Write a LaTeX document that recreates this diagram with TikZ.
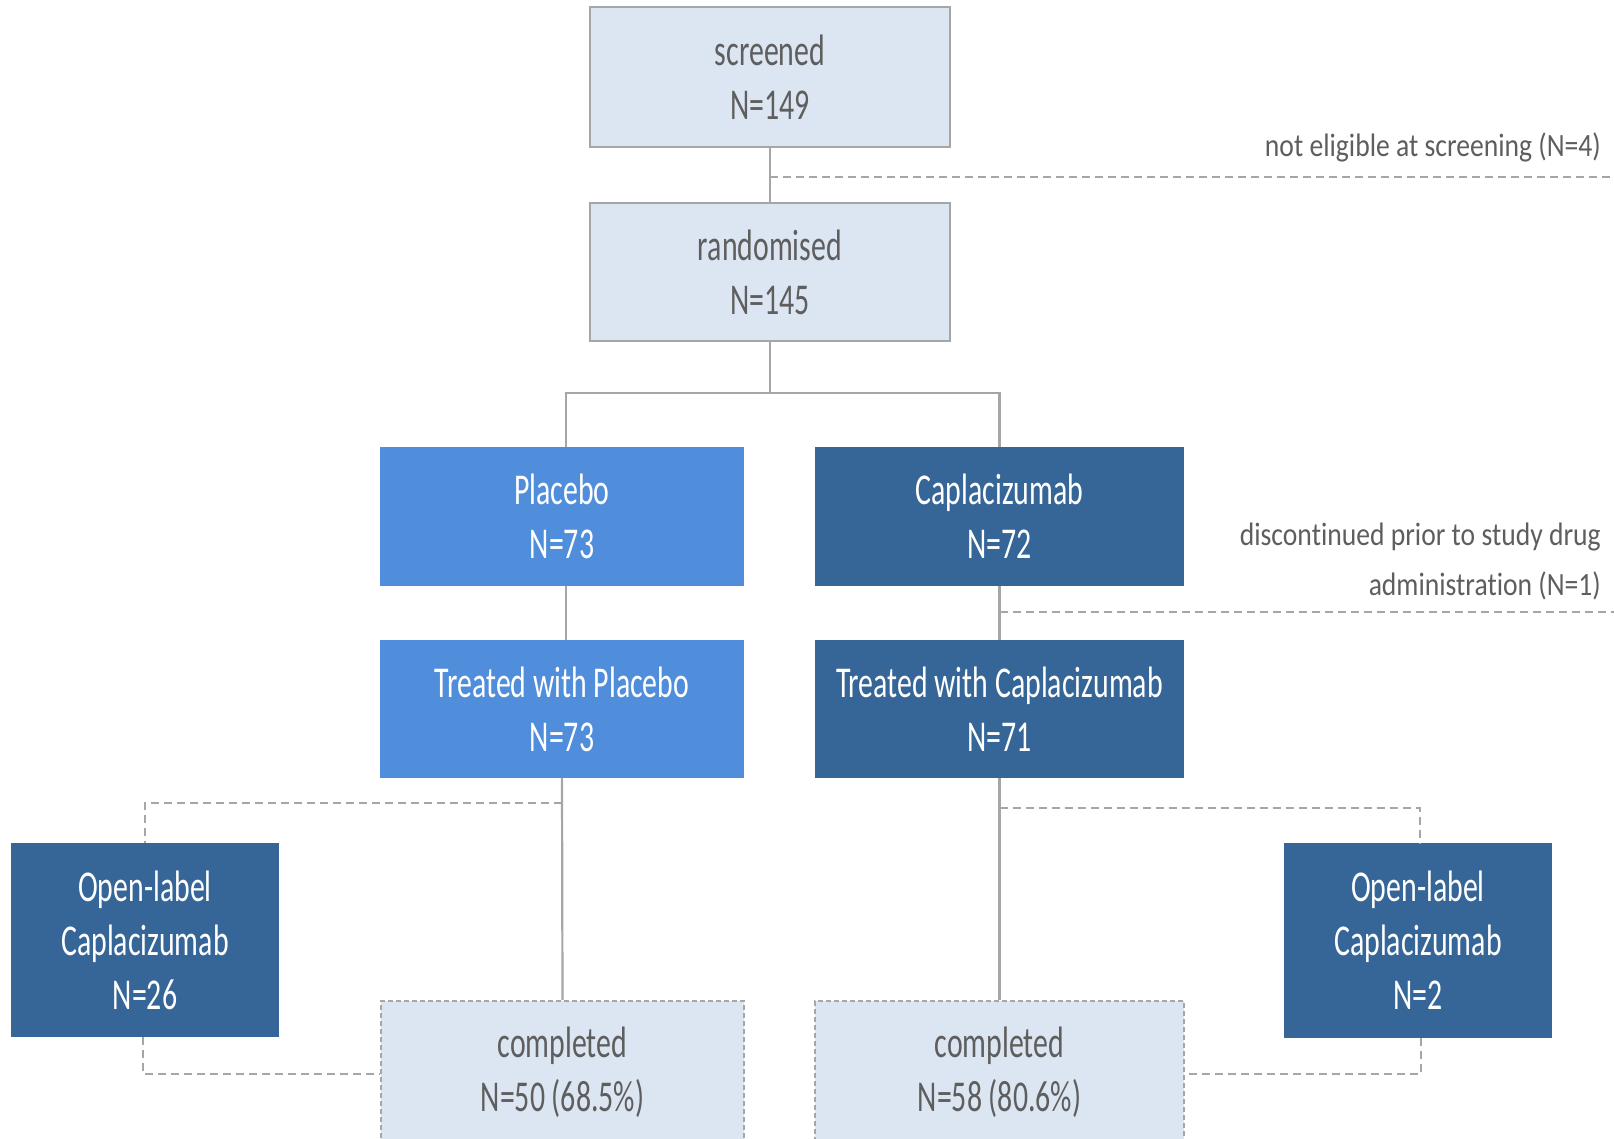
\documentclass[tikz,border=0pt]{standalone}
\usepackage{fontspec}
\setmainfont{Carlito}
\newfontfamily\boxfnt{Carlito}[FakeStretch=0.678, Ligatures=NoCommon]
\newfontfamily\notefnt{Carlito}[FakeStretch=0.85, Ligatures=NoCommon]
\definecolor{lightfill}{HTML}{DCE6F2}
\definecolor{edgegray}{HTML}{A6A6A6}
\definecolor{txtgray}{HTML}{5E5E5E}
\definecolor{plblue}{HTML}{508EDC}
\definecolor{capblue}{HTML}{366698}
\tikzset{
  basebox/.style={rectangle, inner sep=0pt, align=center,
    font=\boxfnt\fontsize{44}{54}\selectfont},
  lightbox/.style={basebox, fill=lightfill, draw=edgegray, line width=2.5pt, text=txtgray},
  compbox/.style={basebox, fill=lightfill, draw=edgegray, line width=2pt,
    dash pattern=on 5pt off 3pt, text=txtgray},
  plbox/.style={basebox, fill=plblue, text=white},
  capbox/.style={basebox, fill=capblue, text=white},
  conn/.style={draw=edgegray, line width=2.2pt},
  dconn/.style={draw=edgegray, line width=2pt, dash pattern=on 8pt off 5pt},
  note/.style={inner sep=0pt, align=right, text=txtgray,
    font=\notefnt\fontsize{32.5}{50}\selectfont}
}
\begin{document}
\begin{tikzpicture}[x=1pt,y=-1pt]
\useasboundingbox (0,0) rectangle (1614,1138);
% boxes
\node[lightbox, minimum width=360pt, minimum height=140pt] (scr) at (770,77) {screened\\N=149};
\node[lightbox, minimum width=360pt, minimum height=138pt] (rnd) at (770,272) {randomised\\N=145};
\node[plbox, minimum width=364pt, minimum height=139pt] (pl) at (562,516.5) {Placebo\\N=73};
\node[capbox, minimum width=369pt, minimum height=139pt] (cap) at (999.5,516.5) {Caplacizumab\\N=72};
\node[plbox, minimum width=364pt, minimum height=138pt] (tpl) at (562,709) {Treated with Placebo\\N=73};
\node[capbox, minimum width=369pt, minimum height=138pt] (tcap) at (999.5,709) {Treated with Caplacizumab\\N=71};
\node[capbox, minimum width=268pt, minimum height=194pt] (olL) at (145,940) {Open-label\\Caplacizumab\\N=26};
\node[capbox, minimum width=268pt, minimum height=195pt] (olR) at (1418,940.5) {Open-label\\Caplacizumab\\N=2};
\node[compbox, minimum width=363pt, minimum height=142pt] (cpl) at (562.5,1072) {completed\\N=50 (68.5\%)};
\node[compbox, minimum width=369pt, minimum height=142pt] (ccap) at (999.5,1072) {completed\\N=58 (80.6\%)};
% notes
\node[note, anchor=base east] (ne1) at (1601,156) {not eligible at screening (N=4)};
\node[note, anchor=north east] (dc1) at (1601,523) {discontinued prior to study drug\\administration (N=1)};
% helper coordinates
\coordinate (exitA) at (1614,177);
\coordinate (bar) at (0,393);
\coordinate (exitB) at (1614,612);
\coordinate (yl) at (0,803);
\coordinate (yr) at (0,808);
\coordinate (yb) at (0,1074);
% connectors
\draw[conn] (scr.south) -- (rnd.north);
\draw[dconn] (scr.south |- exitA) -- (exitA);
\draw[conn] (rnd.south) -- (rnd.south |- bar);
\draw[conn] ([xshift=4pt]pl.north) -- ([xshift=4pt]pl.north |- bar) -- (cap.north |- bar) -- (cap.north);
\draw[conn] ([xshift=4pt]pl.south) -- ([xshift=4pt]tpl.north);
\draw[conn] (cap.south) -- (tcap.north);
\draw[dconn] (cap.south |- exitB) -- (exitB);
\draw[conn] (tpl.south) -- (cpl.north);
\draw[conn] (tcap.south) -- (ccap.north);
\draw[dconn] (tpl.south |- yl) -| (olL.north);
\draw[dconn] ([xshift=-2pt]olL.south) |- (cpl.west |- yb);
\draw[dconn] (tcap.south |- yr) -| ([xshift=2pt]olR.north);
\draw[dconn] ([xshift=3pt]olR.south) |- (ccap.east |- yb);
\end{tikzpicture}
\end{document}
